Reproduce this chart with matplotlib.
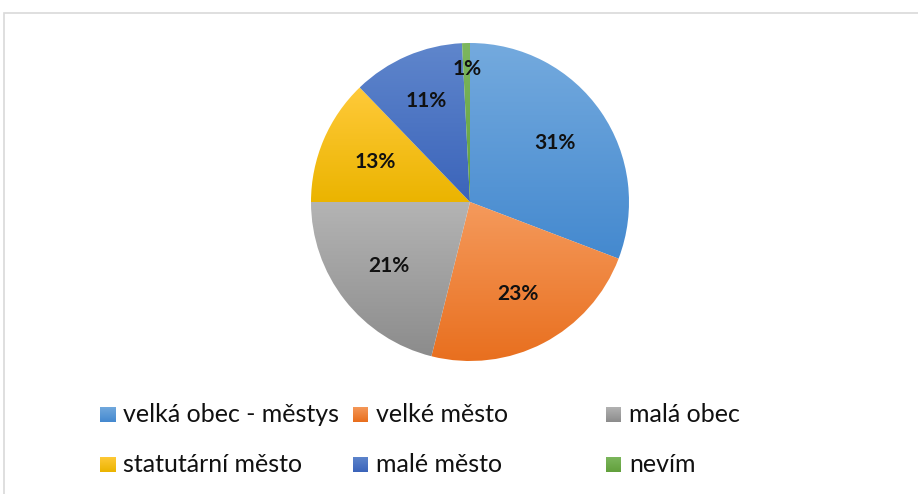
import numpy as np
import matplotlib.pyplot as plt
from matplotlib.colors import LinearSegmentedColormap
from matplotlib.patches import Rectangle

# data
labels = ['velká obec - městys', 'velké město', 'malá obec',
          'statutární město', 'malé město', 'nevím']
values = [30.8, 23.1, 21.1, 12.8, 11.4, 0.8]

# gradient colours (top, bottom)
colors = [('#74aade', '#4489cf'),
          ('#f59a5c', '#e86e1d'),
          ('#b4b4b4', '#8c8c8c'),
          ('#ffca3a', '#ebb400'),
          ('#5f86cc', '#3b64ba'),
          ('#7db75e', '#62a03c')]

fig = plt.figure(figsize=(9.18, 4.94), dpi=100)
W, H = 918, 494

# frame of chart area (right and bottom run off the picture)
fig.patches.append(Rectangle((4 / W, -0.1), 1.2, 1.1 - 13 / H, transform=fig.transFigure,
                             fill=False, edgecolor='#d9d9d9', linewidth=1.2))

ax = fig.add_axes([311 / W, (H - 361) / H, 318 / W, 318 / H])
wedges, texts, autotexts = ax.pie(values, startangle=90, counterclock=False,
                                  autopct='%.0f%%', pctdistance=0.65,
                                  radius=1, wedgeprops=dict(linewidth=0))
ax.axis('off')

# gradient fill per wedge
for w, (c1, c2) in zip(wedges, colors):
    cmap = LinearSegmentedColormap.from_list('g', [c2, c1])
    verts = w.get_path().vertices
    x0, x1 = verts[:, 0].min(), verts[:, 0].max()
    y0, y1 = verts[:, 1].min(), verts[:, 1].max()
    grad = np.linspace(0, 1, 256).reshape(-1, 1)
    im = ax.imshow(grad, extent=[x0, x1, y0, y1], origin='lower', cmap=cmap,
                   aspect='auto', zorder=1, interpolation='bicubic')
    im.set_clip_path(w)
    w.set_facecolor('none')

ax.set_xlim(-1, 1)
ax.set_ylim(-1, 1)
ax.set_aspect('equal')

for t in autotexts:
    t.set_fontsize(15)
    t.set_fontweight('bold')
    t.set_family('Lato')
    t.set_color('#111111')
    t.set_zorder(5)

# push the small slice labels outward
for i, f in [(4, 1.07), (5, 1.29)]:
    x, y = autotexts[i].get_position()
    autotexts[i].set_position((x * f, y * f))

# legend (drawn by hand to match column layout)
col_x = [100, 353, 606]
row_y = [414.5, 464.5]
for i, (lab, (c1, c2)) in enumerate(zip(labels, colors)):
    x = col_x[i % 3]
    y = row_y[i // 3]
    lax = fig.add_axes([x / W, (H - y - 7.5) / H, 15 / W, 15 / H])
    lax.imshow(np.linspace(1, 0, 64).reshape(-1, 1),
               cmap=LinearSegmentedColormap.from_list('g', [c2, c1]),
               aspect='auto', extent=[0, 1, 0, 1])
    lax.axis('off')
    fig.text((x + 23) / W, (H - y) / H, lab, fontsize=18, va='center',
             ha='left', color='#111111', family='Lato')

fig.savefig('out.png', dpi=100)
